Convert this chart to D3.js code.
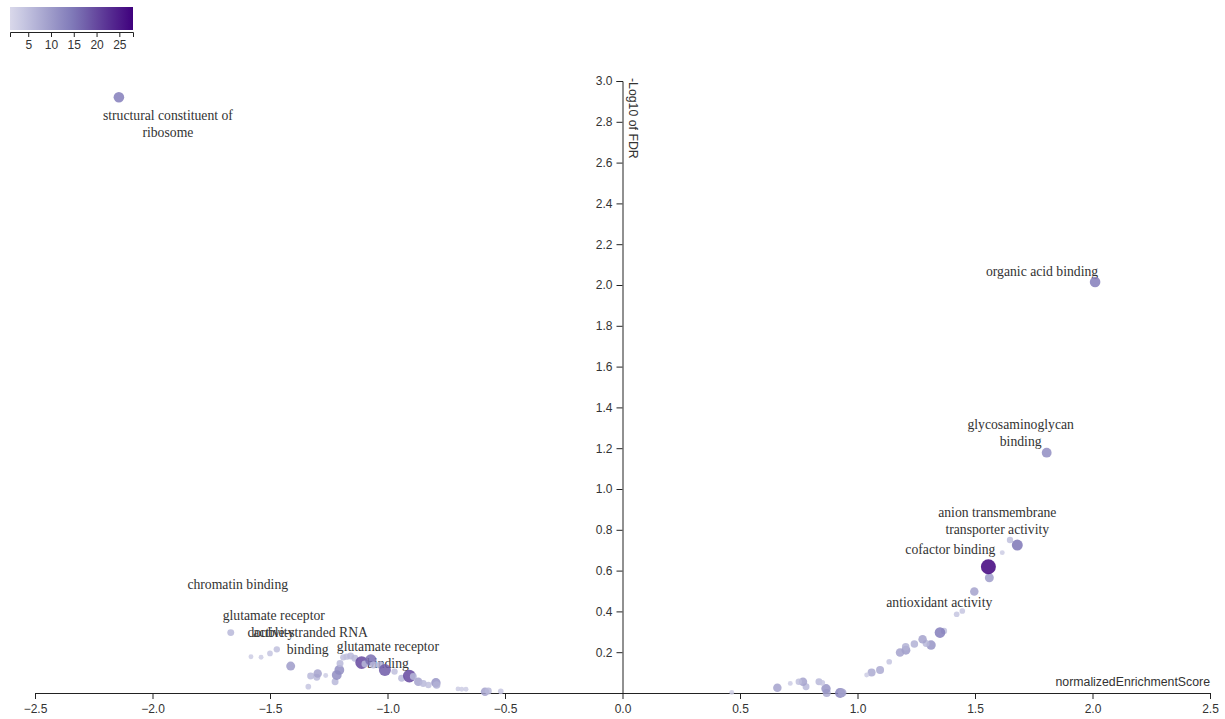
<!DOCTYPE html>
<html>
<head>
<meta charset="utf-8">
<script src="https://cdn.jsdelivr.net/npm/d3@7"></script>
<style>
  body { margin: 0; background: #fff; }
  .axis text { font-family: "Liberation Sans", Arial, sans-serif; font-size: 12px; fill: #333; }
  .axis path, .axis line { stroke: #222; }
  .label { font-family: "Liberation Serif", "Times New Roman", serif; font-size: 13.7px; fill: #333; }
</style>
</head>
<body>
<div id="chart"></div>
<script>
// GO terms: normalized enrichment score, -log10(FDR), gene count
var termNames = [
  "structural constituent of ribosome", "organic acid binding", "glycosaminoglycan binding",
  "anion transmembrane transporter activity", "cofactor binding", "antioxidant activity",
  "chromatin binding", "glutamate receptor activity", "double-stranded RNA binding",
  "glutamate receptor binding"
];
var termNes    = [-2.143, 2.011, 1.805, 1.680, 1.557, 1.497, -1.667, -1.471, -1.412, -1.011];
var termLogFdr = [2.920, 2.015, 1.178, 0.725, 0.619, 0.497, 0.296, 0.214, 0.132, 0.113];
var termCount  = [14, 14, 12, 15, 28, 9, 6, 5, 10, 18];

// unlabeled terms
var otherNes = [
  1.649, 1.616, 1.561, 1.446, 1.422, 1.368, 1.351, 1.313, 1.292, 1.277, 1.242, 1.206, 1.205,
  1.181, 1.135, 1.096, 1.060, 1.039, 0.926, 0.935, 0.869, 0.866, 0.836, 0.850, 0.781, 0.768,
  0.750, 0.714, 0.659, 0.465,
  -1.581, -1.538, -1.500, -1.337, -1.327, -1.301, -1.297, -1.263, -1.223, -1.216, -1.205,
  -1.202, -1.188, -1.174, -1.157, -1.139, -1.110, -1.096, -1.071, -1.060, -1.031, -0.970,
  -0.940, -0.907, -0.890, -0.869, -0.848, -0.826, -0.794, -0.791, -0.700, -0.684, -0.666,
  -0.585, -0.571, -0.518
];
var otherLogFdr = [
  0.750, 0.688, 0.565, 0.402, 0.386, 0.304, 0.296, 0.235, 0.243, 0.263, 0.240, 0.210, 0.227,
  0.199, 0.153, 0.113, 0.100, 0.088, 0.000, 0.001, 0.000, 0.021, 0.055, 0.050, 0.031, 0.055,
  0.055, 0.047, 0.026, 0.003,
  0.178, 0.175, 0.194, 0.031, 0.083, 0.077, 0.096, 0.086, 0.055, 0.088, 0.113,
  0.145, 0.175, 0.178, 0.181, 0.170, 0.149, 0.142, 0.162, 0.137, 0.137, 0.105,
  0.072, 0.083, 0.081, 0.055, 0.047, 0.039, 0.050, 0.039, 0.020, 0.018, 0.018,
  0.006, 0.010, 0.008
];
var otherCount = [
  5, 3, 10, 4, 4, 5, 14, 11, 6, 9, 7, 10, 7,
  9, 4, 8, 8, 3, 13, 9, 8, 11, 6, 4, 6, 9,
  5, 3, 9, 3,
  3, 3, 4, 4, 6, 6, 9, 3, 6, 12, 12,
  6, 5, 5, 6, 6, 20, 6, 16, 6, 7, 5,
  6, 20, 6, 9, 6, 5, 11, 7, 3, 3, 3,
  9, 6, 4
];

var xTicks = [-2.5, -2.0, -1.5, -1.0, -0.5, 0.0, 0.5, 1.0, 1.5, 2.0, 2.5];
var yTicks = [0.2, 0.4, 0.6, 0.8, 1.0, 1.2, 1.4, 1.6, 1.8, 2.0, 2.2, 2.4, 2.6, 2.8, 3.0];
var legendTicks = [5, 10, 15, 20, 25];

// label placement (pixel offsets from the point)
var labelOffsets = [[49, 23], [-53, -6], [-26, -24], [-20, -28], [-38, -13], [-35, 15],
                    [7, -44], [-3, -29], [17, -29], [3, -19]];

var margin = {top: 81, right: 15, bottom: 26, left: 35},
    width = 1225 - margin.left - margin.right,
    height = 719 - margin.top - margin.bottom;

var x = d3.scaleLinear().domain([-2.5, 2.5]).range([0, width]);
var y = d3.scaleLinear().domain([0, 3]).range([height, 0]);

var color = d3.scaleSequential(function(t) { return d3.interpolatePurples(0.25 + 0.75 * t); })
              .domain([1, 28]);
var radius = d3.scaleSqrt().domain([0, 28]).range([0, 7.5]);

var points = [];
for (var i = 0; i < otherNes.length; i++) {
    points.push({name: "", nes: otherNes[i], fdr: otherLogFdr[i], count: otherCount[i]});
}
var labeled = [];
for (var j = 0; j < termNames.length; j++) {
    var p = {name: termNames[j], nes: termNes[j], fdr: termLogFdr[j], count: termCount[j], off: labelOffsets[j]};
    labeled.push(p);
    points.push(p);
}

var root = d3.select("#chart").append("svg")
    .attr("width", 1225)
    .attr("height", 719);

// colour legend
var lg = root.append("g").attr("transform", "translate(10,7)");
var lx = d3.scaleLinear().domain([1, 28]).range([0, 123]);
var grad = root.append("defs").append("linearGradient").attr("id", "legendGrad");
d3.range(0, 1.001, 0.1).forEach(function(t) {
    grad.append("stop").attr("offset", (t * 100) + "%").attr("stop-color", color(1 + t * 27));
});
lg.append("rect")
    .attr("width", 123)
    .attr("height", 23)
    .attr("fill", "url(#legendGrad)");
lg.append("g")
    .attr("class", "axis")
    .attr("transform", "translate(0,25)")
    .call(d3.axisBottom(lx).tickValues(legendTicks).tickSize(5));

var svg = root.append("g")
    .attr("transform", "translate(" + margin.left + "," + margin.top + ")");

svg.append("g")
    .attr("class", "axis")
    .attr("transform", "translate(0," + height + ")")
    .call(d3.axisBottom(x).tickValues(xTicks).tickFormat(d3.format(".1f")).tickPadding(5));

svg.append("text")
    .attr("x", width)
    .attr("y", height - 7)
    .attr("text-anchor", "end")
    .style("font-family", "Liberation Sans, Arial, sans-serif")
    .style("font-size", "12.3px")
    .style("fill", "#333")
    .text("normalizedEnrichmentScore");

svg.append("g")
    .attr("class", "axis")
    .attr("transform", "translate(" + x(0) + ",0)")
    .call(d3.axisLeft(y).tickValues(yTicks).tickFormat(d3.format(".1f")).tickPadding(4));

svg.append("text")
    .attr("transform", "translate(" + (x(0) + 6) + ",-3) rotate(90)")
    .attr("text-anchor", "start")
    .style("font-family", "Liberation Sans, Arial, sans-serif")
    .style("font-size", "12.3px")
    .style("fill", "#333")
    .text("-Log10 of FDR");

// labels (drawn under the points)
var labels = svg.selectAll(".label")
    .data(labeled)
    .enter()
    .append("text")
    .attr("class", "label")
    .attr("text-anchor", "middle")
    .attr("x", function(d) { return x(d.nes) + d.off[0]; })
    .attr("y", function(d) { return y(d.fdr) + d.off[1]; });

labels.each(function(d) {
    var t = d3.select(this), words = d.name.split(" "), line = [];
    var ts = t.append("tspan").attr("x", t.attr("x")).attr("dy", 0);
    words.forEach(function(w) {
        line.push(w);
        ts.text(line.join(" "));
        if (ts.node().getComputedTextLength() > 140 && line.length > 1) {
            line.pop();
            ts.text(line.join(" "));
            line = [w];
            ts = t.append("tspan").attr("x", t.attr("x")).attr("dy", "17px").text(w);
        }
    });
});

svg.selectAll("circle")
    .data(points)
    .enter()
    .append("circle")
    .attr("cx", function(d) { return x(d.nes); })
    .attr("cy", function(d) { return y(d.fdr); })
    .attr("r", function(d) { return radius(d.count); })
    .attr("fill", function(d) { return color(d.count); })
    .attr("fill-opacity", 0.85);
</script>
</body>
</html>
